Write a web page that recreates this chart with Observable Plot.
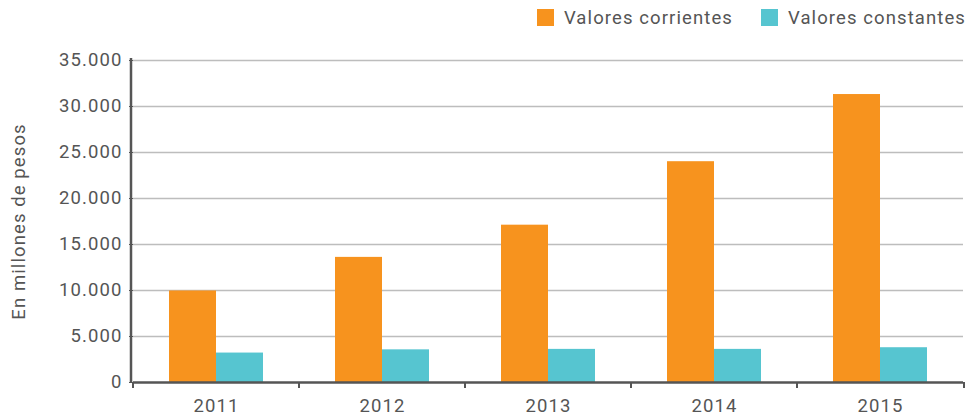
<!DOCTYPE html>
<html><head><meta charset="utf-8">
<script src="https://cdn.jsdelivr.net/npm/d3@7"></script>
<script src="https://cdn.jsdelivr.net/npm/@observablehq/plot@0.6"></script>
<style>
body{margin:0;background:#fff;font-family:Roboto,"DejaVu Sans",sans-serif;}
#legend{height:35px;display:flex;justify-content:flex-end;align-items:center;padding-right:4px;font-size:18.5px;color:#555;letter-spacing:1.1px;box-sizing:border-box;}
#legend .it{display:flex;align-items:center;margin-left:28px;}
#legend .sw{width:17px;height:17px;margin-right:10px;}
</style></head>
<body>
<div id="legend"></div>
<div id="chart"></div>
<script>
const years = ["2011","2012","2013","2014","2015"];
const series = ["Valores corrientes","Valores constantes"];
const corrientes = [9950, 13600, 17100, 24000, 31300];
const constantes = [3200, 3550, 3600, 3600, 3780];
const colors = ["#F7931E","#56C5D0"];
const yTicks = [0,5000,10000,15000,20000,25000,30000,35000];
const yLabel = "En millones de pesos";

const data = [];
years.forEach((y,i)=>{
  data.push({year:y, series:series[0], value:corrientes[i]});
  data.push({year:y, series:series[1], value:constantes[i]});
});

const lg = document.getElementById("legend");
series.forEach((s,i)=>{
  const it = document.createElement("div"); it.className="it";
  const sw = document.createElement("div"); sw.className="sw"; sw.style.background=colors[i];
  const t = document.createElement("span"); t.textContent=s;
  it.appendChild(sw); it.appendChild(t); lg.appendChild(it);
});

const fmt = d => d3.format(",")(d).replace(/,/g,".");

const chart = Plot.plot({
  width:970, height:382,
  marginLeft:131, marginRight:6, marginTop:25, marginBottom:35,
  style:{fontFamily:"Roboto, sans-serif", fontSize:"18.5px", color:"#555", letterSpacing:"1.1px", background:"#fff"},
  fx:{domain:years, padding:0, label:null, axis:"bottom", tickSize:0, tickPadding:16},
  x:{domain:series, paddingInner:0, paddingOuter:0.75, axis:null},
  y:{domain:[0,35000], ticks:yTicks, tickFormat:fmt, tickSize:4, tickPadding:7, label:yLabel, labelArrow:"none", labelAnchor:"center", labelOffset:122},
  color:{domain:series, range:colors},
  marks:[
    Plot.gridY(yTicks.filter(d=>d>0), {stroke:"#bdbdbd", strokeOpacity:1, strokeWidth:1.5}),
    Plot.barY(data, {fx:"year", x:"series", y:"value", fill:"series"}),
    Plot.ruleY([0], {stroke:"#555", strokeWidth:2.5})
  ]
});
document.getElementById("chart").appendChild(chart);

// axis line and boundary ticks using the chart's scales
const fxs = chart.scale("fx"), ys = chart.scale("y");
const svg = d3.select(chart.tagName === "svg" ? chart : chart.querySelector("svg"));
const x0 = fxs.range[0], x1 = fxs.range[1];
const y0 = ys.apply(0), yTop = ys.apply(35000);
const g = svg.append("g").attr("stroke","#555");
g.append("line").attr("x1",x0).attr("x2",x0).attr("y1",y0+1).attr("y2",yTop-2).attr("stroke-width",2.5);
years.forEach(yr=>{
  const xb = fxs.apply(yr);
  g.append("line").attr("x1",xb).attr("x2",xb).attr("y1",y0).attr("y2",y0+6).attr("stroke-width",2);
});
g.append("line").attr("x1",x1).attr("x2",x1).attr("y1",y0).attr("y2",y0+6).attr("stroke-width",2);
</script>
</body></html>
